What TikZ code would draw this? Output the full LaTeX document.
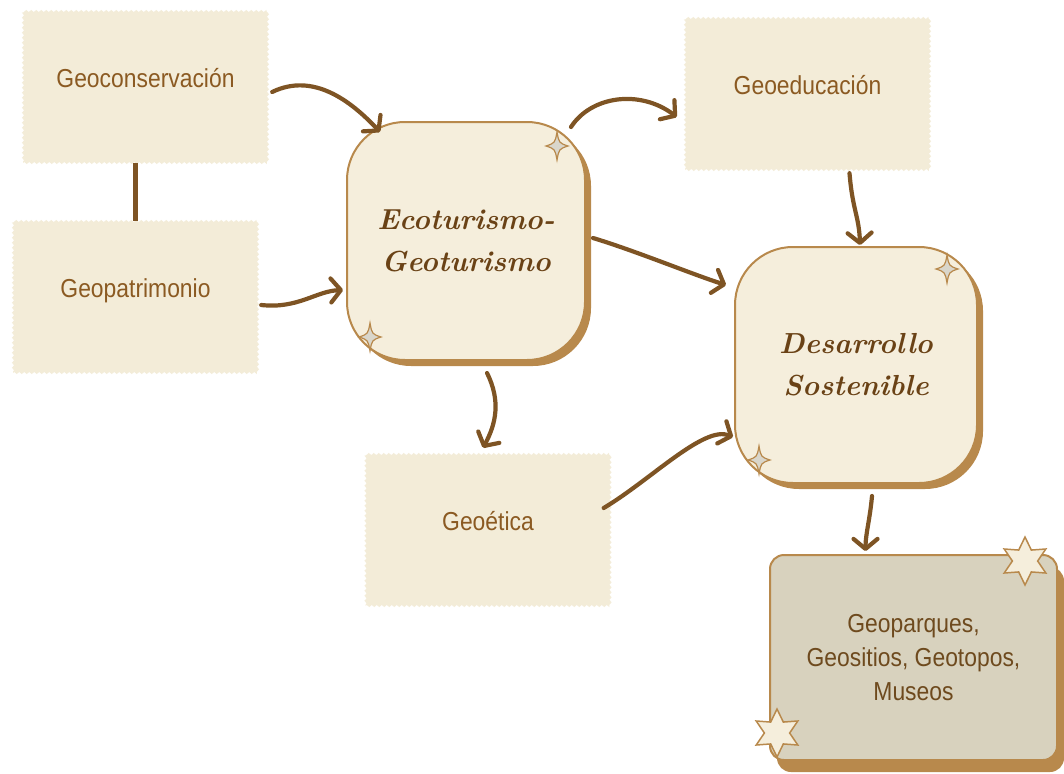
\documentclass[tikz,border=0pt]{standalone}
\usepackage{fontspec}
\setsansfont{Liberation Sans}[FakeStretch=0.88]
\usetikzlibrary{decorations.pathmorphing,shadows,shapes.geometric,arrows.meta,calc}
\definecolor{stampfill}{HTML}{F3ECD8}
\definecolor{boxfill}{HTML}{F5EEDC}
\definecolor{boxdraw}{HTML}{B8894C}
\definecolor{arrowc}{HTML}{7E5424}
\definecolor{textc}{HTML}{8B5A22}
\definecolor{scriptc}{HTML}{6A4216}
\definecolor{geofill}{HTML}{D8D2BE}
\definecolor{geotext}{HTML}{6E4A1E}
\definecolor{sparkfill}{HTML}{D9D6CB}
\begin{document}
\begin{tikzpicture}[x=1pt,y=-1pt,
  stamp/.style={rectangle, fill=stampfill, minimum width=245pt, minimum height=152pt,
    decorate, decoration={zigzag, segment length=5pt, amplitude=1.2pt},
    font=\sffamily\fontsize{26}{30}\selectfont, text=textc, text depth=18pt},
  rbox/.style={rectangle, rounded corners=58pt, fill=boxfill, draw=boxdraw, line width=2pt,
    minimum width=238pt, minimum height=238pt, align=center,
    font=\bfseries\itshape\fontsize{29}{42}\selectfont, text=scriptc,
    general shadow={shadow xshift=6pt, shadow yshift=-6pt, fill=boxdraw}},
  geobox/.style={rectangle, rounded corners=14pt, fill=geofill, draw=boxdraw, line width=2pt,
    minimum width=287pt, minimum height=205pt, align=center,
    font=\sffamily\fontsize{26}{34}\selectfont, text=geotext,
    general shadow={shadow xshift=7pt, shadow yshift=-12pt, fill=boxdraw}},
  arr/.style={draw=arrowc, line width=4.2pt, line cap=round,
    -{Straight Barb[length=10pt,width=24pt,line cap=round,line join=round]}},
  link/.style={draw=arrowc, line width=4.2pt},
  six/.style={star, star points=6, star point ratio=1.9, minimum size=48pt, inner sep=0pt,
    fill=boxfill, draw=boxdraw, line width=1.5pt},
  sparkle/.pic={\filldraw[fill=sparkfill, draw=boxdraw, line width=1.2pt]
    (0,-14) .. controls (2,-3) .. (11,0) .. controls (2,3) .. (0,14)
    .. controls (-2,3) .. (-11,0) .. controls (-2,-3) .. (0,-14) -- cycle;}
]
\useasboundingbox (0,0) rectangle (1064,773);

\node[stamp] (gc) at (145.5,87) {Geoconservación};
\node[stamp] (gp) at (135.5,297) {Geopatrimonio};
\node[stamp] (ge) at (807.5,94) {Geoeducación};
\node[stamp] (gt) at (488,530) {Geoética};

\node[rbox] (eco) at (466,241) {Ecoturismo-\\Geoturismo};
\node[rbox, minimum width=242pt, minimum height=236pt] (des) at (856,365) {Desarrollo\\Sostenible};
\node[geobox] (geo) at (913.5,657.5) {Geoparques,\\Geositios, Geotopos,\\Museos};

\pic at (557,146) {sparkle};
\pic at (370,337) {sparkle};
\pic at (947,269) {sparkle};
\pic at (759,460) {sparkle};
\node[six] (s1) at (1025,561) {};
\node[six] (s2) at (777,733) {};

% connectors
\draw[link] (gc.south -| gp.north) -- (gp.north);
\draw[arr] ($(gc.east)+(4,5)$) .. controls ($(gc.east)+(45,-15)$) and ($(eco.north west)+(5,-20)$) .. ($(eco.north west)+(34,11)$);
\draw[arr] ($(gp.east)+(3,8)$) .. controls ($(gp.east)+(40,12)$) and ($(eco.west)+(-30,50)$) .. ($(eco.west)+(-3,49)$);
\draw[arr] ($(eco.north east)+(-15,6)$) .. controls ($(eco.north east)+(5,-25)$) and ($(ge.west)+(-45,-5)$) .. ($(ge.west)+(-8,23)$);
\draw[arr] ($(ge.south)+(42,3)$) .. controls ($(ge.south)+(45,40)$) and ($(des.north)+(3,-30)$) .. ($(des.north)+(4,-1)$);
\draw[arr] ($(eco.east)+(7,-3)$) .. controls ($(eco.east)+(50,10)$) and ($(des.west)+(-40,-90)$) .. ($(des.west)+(-8,-80)$);
\draw[arr] ($(eco.south)+(21,12)$) .. controls ($(eco.south)+(35,40)$) and ($(gt.north)+(8,-30)$) .. ($(gt.north)+(-5,-6)$);
\draw[arr] ($(gt.east)+(-7,-22)$) .. controls ($(gt.east)+(40,-50)$) and ($(des.west)+(-30,60)$) .. ($(des.west)+(-1,72)$);
\draw[arr] ($(des.south)+(16,12)$) .. controls ($(des.south)+(14,35)$) and ($(geo.north)+(-48,-20)$) .. ($(geo.north)+(-48,-3)$);
\end{tikzpicture}
\end{document}
